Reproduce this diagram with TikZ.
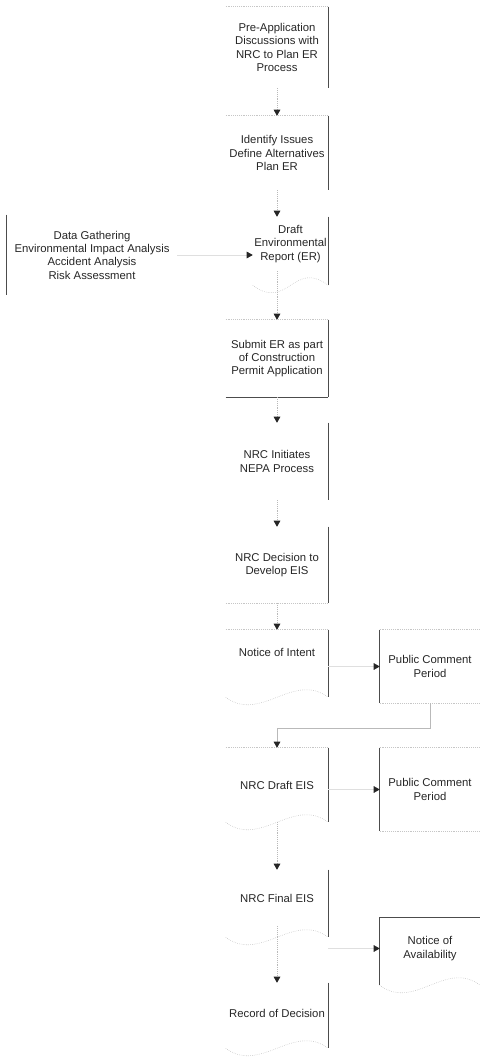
\documentclass[tikz,border=0pt]{standalone}
\usepackage{fontspec}
\setmainfont{Liberation Sans}
\usetikzlibrary{arrows.meta, calc}
\tikzset{
    stepbox/.style={minimum width=76.5pt, align=center, inner sep=0pt, text=black!85, font=\fontsize{8.5}{10}\selectfont},
    sidebox/.style={stepbox, minimum width=75pt},
    flow/.style={-{Triangle[length=4.5pt, width=5pt, color=black!85]}, densely dotted, gray!55, thin},
    feed/.style={-{Triangle[length=4.5pt, width=5pt, color=black!85]}, gray!25, thin},
    link/.style={-{Triangle[length=4.5pt, width=5pt, color=black!85]}, gray!55, thin},
    edge/.style={gray!60!black, line width=0.7pt},
    faint/.style={gray!45, densely dotted, thin},
    wave/.style={gray!55, densely dotted, thin}
}
\begin{document}
\begin{tikzpicture}[x=0.75pt, y=-0.75pt]
    \useasboundingbox (0,0) rectangle (479,1057);
    % main column
    \node[stepbox, minimum height=60.75pt] (pre) at (277,47.5) {Pre-Application\\Discussions with\\NRC to Plan ER\\Process};
    \node[stepbox, minimum height=55.5pt] (issues) at (277,153) {Identify Issues\\Define Alternatives\\Plan ER};
    \node[stepbox, minimum width=56.25pt, minimum height=40.5pt] (draft) at (290.5,244) {Draft\\Environmental\\Report (ER)};
    \node[stepbox, minimum height=57.75pt] (submit) at (277,358.5) {Submit ER as part\\of Construction\\Permit Application};
    \node[stepbox, minimum height=57.75pt] (nepa) at (277,461.5) {NRC Initiates\\NEPA Process};
    \node[stepbox, minimum height=57pt] (decide) at (277,565) {NRC Decision to\\Develop EIS};
    \node[stepbox, minimum height=33pt] (noi) at (277,652) {Notice of Intent};
    \node[stepbox, minimum height=55.5pt] (deis) at (277,785) {NRC Draft EIS};
    \node[stepbox, minimum height=42pt] (feis) at (277,898) {NRC Final EIS};
    \node[stepbox, minimum height=45pt] (rod) at (277,1013) {Record of Decision};
    % side boxes
    \node[stepbox, minimum width=127.5pt, minimum height=60pt] (data) at (92,255) {Data Gathering\\Environmental Impact Analysis\\Accident Analysis\\Risk Assessment};
    \node[sidebox, minimum height=54.75pt] (pcp1) at (430,666.5) {Public Comment\\Period};
    \node[sidebox, minimum height=62.25pt] (pcp2) at (430,789.5) {Public Comment\\Period};
    \node[sidebox, minimum height=45.75pt] (noa) at (430,948.5) {Notice of\\Availability};

    % box outlines as they survive in the scan
    \foreach \n in {pre, issues, submit, nepa, decide}
        \draw[edge] (\n.north east) -- (\n.south east);
    \foreach \n/\e in {draft/14, noi/23, deis/0, feis/11, rod/5} {
        \draw[edge] (\n.north east) -- ($(\n.south east)+(0,\e)$);
        \draw[wave] ($(\n.south west)+(0,\e)$) .. controls +(35,26) and +(-35,-26) .. ($(\n.south east)+(0,\e)$);
    }
    \foreach \n in {pre, issues, submit, noi, deis, pcp1, pcp2}
        \draw[faint] (\n.north west) -- (\n.north east);
    \draw[edge] (submit.south west) -- (submit.south east);
    \draw[faint] (decide.south west) -- (decide.south east);
    \foreach \n in {data, pcp1, pcp2}
        \draw[edge] (\n.north west) -- (\n.south west);
    \foreach \n in {pcp1, pcp2}
        \draw[faint] (\n.south west) -- (\n.south east);
    \draw[edge] (noa.north east) -- (noa.north west) -- ($(noa.south west)+(0,6)$);
    \draw[wave] ($(noa.south west)+(0,6)$) .. controls +(35,26) and +(-35,-26) .. ($(noa.south east)+(0,6)$);

    % connectors
    \draw[flow] (pre) -- (issues);
    \draw[flow] (issues.south) -- (issues.south |- draft.north);
    \draw[feed] (data.east) -- (data.east -| draft.west);
    \draw[flow] (draft.south -| submit.north) -- (submit.north);
    \draw[flow] (submit) -- (nepa);
    \draw[flow] (nepa) -- (decide);
    \draw[flow] (decide) -- (noi);
    \draw[feed] (noi.east |- pcp1.west) -- (pcp1.west);
    \draw[link] (pcp1.south) -- ++(0,25) -| (deis.north);
    \draw[feed] (deis.east |- pcp2.west) -- (pcp2.west);
    \draw[flow] (deis) -- (feis);
    \draw[feed] (feis.east |- noa.west) -- (noa.west);
    \draw[flow] (feis) -- (rod);
\end{tikzpicture}
\end{document}
